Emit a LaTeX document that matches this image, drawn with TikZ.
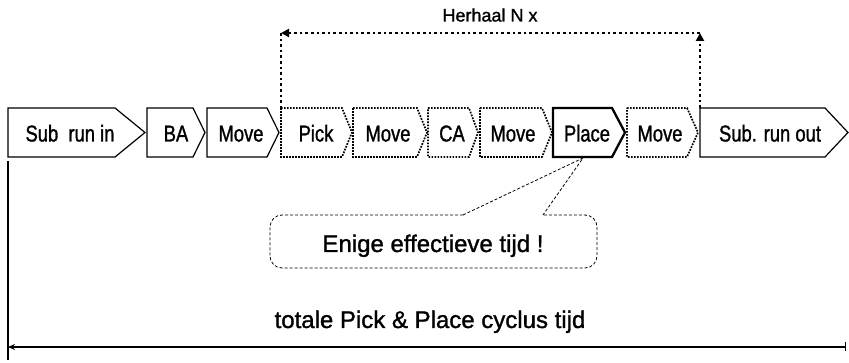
\documentclass[tikz,border=0pt]{standalone}
\usepackage{fontspec}
\setmainfont{Liberation Sans}
\newfontfamily\narrowsans[FakeStretch=0.8,FakeBold=1.2]{Liberation Sans}
\newfontfamily\heavysans[FakeBold=1.2]{Liberation Sans}
\usetikzlibrary{arrows.meta}

\tikzset{
  chevbox/.style={draw=black, line width=1.2pt, line join=miter},
  loopbox/.style={draw=black, line width=1.7pt, dash pattern=on 1.7pt off 1.3pt, line join=miter},
  placebox/.style={draw=black, line width=2.3pt, line join=miter},
  chevlbl/.style={font=\narrowsans\fontsize{23}{23}\selectfont, inner sep=0pt, anchor=base},
  repeatline/.style={line width=2.4pt, dash pattern=on 2.6pt off 3pt},
  repeatarrow/.style={repeatline, -{Triangle[length=8pt,width=8pt]}},
  calloutline/.style={line width=0.8pt, dash pattern=on 3pt off 2pt},
  bigtext/.style={font=\heavysans\fontsize{24}{24}\selectfont, inner sep=0pt, anchor=base},
  smalltext/.style={font=\heavysans\fontsize{18}{18}\selectfont, inner sep=0pt, anchor=base},
  spanline/.style={line width=1.3pt}
}

% name, style, x1, x2, x3, text-x, label
\newcommand\mychev[7]{%
  \draw[#2] (#3,108) -- (#4,108) -- (#5,132.5) -- (#4,157) -- (#3,157) -- cycle;
  \node[chevlbl] (#1) at (#6,141.5) {#7};
  \coordinate (#1-nw) at (#3,108);
  \coordinate (#1-sw) at (#3,157);
}

\begin{document}
\begin{tikzpicture}[x=1pt,y=-1pt]
\useasboundingbox (0,0) rectangle (849,363);

\mychev{subin}{chevbox}{8}{115}{145}{70}{Sub\ \ run in}
\mychev{ba}{chevbox}{147}{193}{205}{176}{BA}
\mychev{movea}{chevbox}{207}{267}{279}{241}{Move}
\mychev{pick}{loopbox}{281}{342}{352}{316}{Pick}
\mychev{moveb}{loopbox}{353}{417}{427}{388}{Move}
\mychev{ca}{loopbox}{428}{469}{478}{452}{CA}
\mychev{movec}{loopbox}{480}{542}{552}{513}{Move}
\mychev{place}{placebox}{553}{612}{625}{587}{Place}
\mychev{moved}{loopbox}{627}{687}{698}{660}{Move}
\mychev{runout}{chevbox}{700}{825}{848}{770}{Sub. run out}

% repeat loop
\coordinate (loopr) at (700,33);
\coordinate (loopl) at (281,33);
\draw[repeatarrow] (runout-nw) -- (loopr);
\draw[repeatarrow] (loopr) -- (loopl);
\draw[repeatline] (loopl) -- (pick-nw);
\node[smalltext] (herhaal) at (490,21.5) {Herhaal N x};

% callout
\coordinate (ptr) at (583,158);
\coordinate (cla) at (463,215);
\coordinate (clb) at (543,215);
\draw[calloutline, rounded corners=12pt] (cla) -- (270,215) -- (270,268) -- (597,268) -- (597,215) -- (clb);
\draw[calloutline] (cla) -- (ptr) -- (clb);
\node[bigtext] (eff) at (433,252) {Enige effectieve tijd !};

% total span
\coordinate (vtop) at (8,161);
\coordinate (vbot) at (8,360);
\coordinate (spl) at (8,347);
\coordinate (spr) at (846,347);
\draw[spanline] (vtop) -- (vbot);
\draw[spanline, {Stealth[length=7pt,width=6pt]}-{Bar[width=9pt]}] (spl) -- (spr);
\node[bigtext] (total) at (430,328) {totale Pick \& Place cyclus tijd};
\end{tikzpicture}
\end{document}
